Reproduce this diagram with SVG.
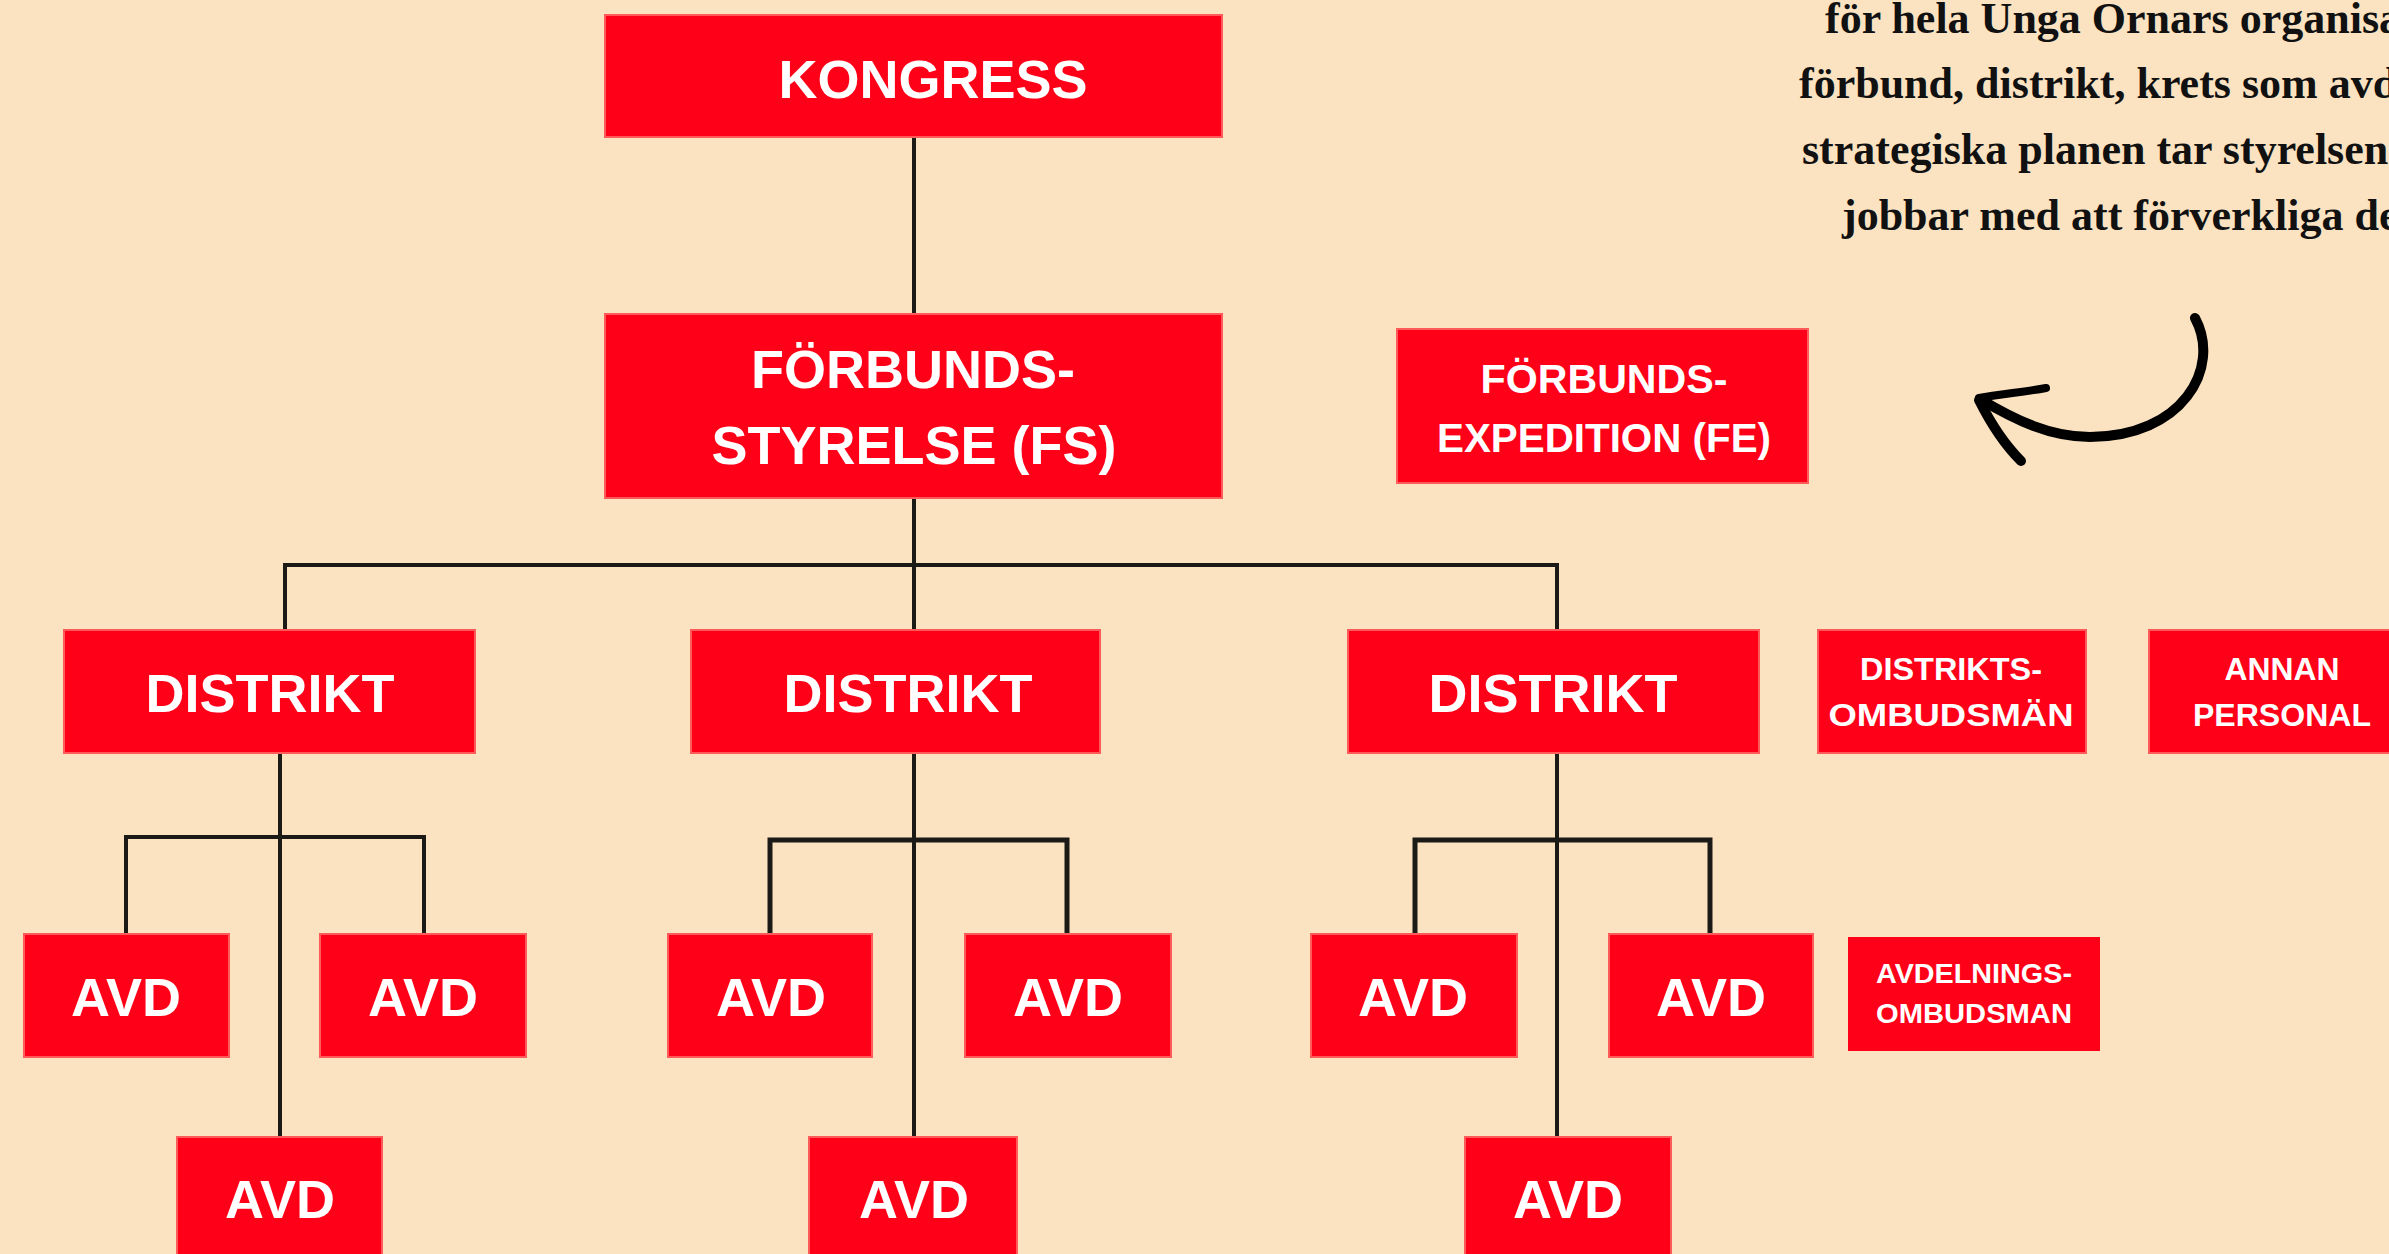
<svg xmlns="http://www.w3.org/2000/svg" width="2389" height="1254" viewBox="0 0 2389 1254">
  <style>
    .box { fill: #ff0019; stroke: #ff5a5a; stroke-width: 2; }
    .crisp { fill: #ff0019; }
    .lbl { font-family: "Liberation Sans", Arial, sans-serif; font-weight: bold; fill: #ffffff; text-anchor: middle; }
    .big { font-size: 54px; }
    .mid { font-size: 40px; }
    .sm { font-size: 31px; }
    .xs { font-size: 28px; }
    .conn { stroke: #1c1a17; stroke-width: 4; fill: none; stroke-linecap: square; }
    .note { font-family: "Liberation Serif", "Times New Roman", serif; font-weight: bold; font-size: 44px; fill: #111111; }
    .arrow { stroke: #000000; fill: none; stroke-linecap: round; stroke-linejoin: round; }
  </style>
  <rect x="0" y="0" width="2389" height="1254" fill="#fbe3c1"/>

  <g id="note">
    <text class="note" x="1825" y="33">för hela Unga Ornars organisa</text>
    <text class="note" x="1799" y="98">förbund, distrikt, krets som avd</text>
    <text class="note" x="1802" y="164">strategiska planen tar styrelsen</text>
    <text class="note" x="1842" y="230">jobbar med att förverkliga de</text>
  </g>

  <g id="arrow">
    <path class="arrow" stroke-width="10" d="M2195 318 C2222 368 2182 437 2090 437 C2050 437 2015 420 1980 399"/>
    <path class="arrow" stroke-width="8" d="M2046 388 C2025 392 2000 394 1979 398"/>
    <path class="arrow" stroke-width="10" d="M1979 400 C1990 422 2004 444 2021 461"/>
  </g>

  <g id="connectors">
    <line class="conn" x1="914" y1="137" x2="914" y2="314"/>
    <line class="conn" x1="914" y1="498" x2="914" y2="630"/>
    <polyline class="conn" points="285,630 285,565 1557,565 1557,630"/>
    <line class="conn" x1="280" y1="753" x2="280" y2="1137"/>
    <polyline class="conn" points="126,934 126,837 424,837 424,934"/>
    <line class="conn" x1="914" y1="753" x2="914" y2="1137"/>
    <polyline class="conn" style="stroke-width:5" points="770,934 770,840 1067,840 1067,934"/>
    <line class="conn" x1="1557" y1="753" x2="1557" y2="1137"/>
    <polyline class="conn" style="stroke-width:5" points="1415,934 1415,840 1710,840 1710,934"/>
  </g>

  <g id="kongress">
    <rect class="box" x="605" y="15" width="617" height="122"/>
    <text class="lbl big" x="933" y="98">KONGRESS</text>
  </g>
  <g id="fs">
    <rect class="box" x="605" y="314" width="617" height="184"/>
    <text class="lbl big" x="913" y="388">FÖRBUNDS-</text>
    <text class="lbl big" x="914" y="464">STYRELSE (FS)</text>
  </g>
  <g id="fe">
    <rect class="box" x="1397" y="329" width="411" height="154"/>
    <text class="lbl mid" x="1604" y="393" textLength="247" lengthAdjust="spacingAndGlyphs">FÖRBUNDS-</text>
    <text class="lbl mid" x="1604" y="452" textLength="334" lengthAdjust="spacingAndGlyphs">EXPEDITION (FE)</text>
  </g>

  <g id="distrikt1">
    <rect class="box" x="64" y="630" width="411" height="123"/>
    <text class="lbl big" x="270" y="712">DISTRIKT</text>
  </g>
  <g id="distrikt2">
    <rect class="box" x="691" y="630" width="409" height="123"/>
    <text class="lbl big" x="908" y="712">DISTRIKT</text>
  </g>
  <g id="distrikt3">
    <rect class="box" x="1348" y="630" width="411" height="123"/>
    <text class="lbl big" x="1553" y="712">DISTRIKT</text>
  </g>
  <g id="distriktsombudsman">
    <rect class="box" x="1818" y="630" width="268" height="123"/>
    <text class="lbl sm" x="1951" y="680" textLength="182" lengthAdjust="spacingAndGlyphs">DISTRIKTS-</text>
    <text class="lbl sm" x="1951" y="726" textLength="245" lengthAdjust="spacingAndGlyphs">OMBUDSMÄN</text>
  </g>
  <g id="annanpersonal">
    <rect class="box" x="2149" y="630" width="250" height="123"/>
    <text class="lbl sm" x="2282" y="680" textLength="115" lengthAdjust="spacingAndGlyphs">ANNAN</text>
    <text class="lbl sm" x="2282" y="726" textLength="178" lengthAdjust="spacingAndGlyphs">PERSONAL</text>
  </g>

  <g id="avd1">
    <rect class="box" x="24" y="934" width="205" height="123"/>
    <text class="lbl big" x="126" y="1016">AVD</text>
  </g>
  <g id="avd2">
    <rect class="box" x="320" y="934" width="206" height="123"/>
    <text class="lbl big" x="423" y="1016">AVD</text>
  </g>
  <g id="avd3">
    <rect class="box" x="668" y="934" width="204" height="123"/>
    <text class="lbl big" x="771" y="1016">AVD</text>
  </g>
  <g id="avd4">
    <rect class="box" x="965" y="934" width="206" height="123"/>
    <text class="lbl big" x="1068" y="1016">AVD</text>
  </g>
  <g id="avd5">
    <rect class="box" x="1311" y="934" width="206" height="123"/>
    <text class="lbl big" x="1413" y="1016">AVD</text>
  </g>
  <g id="avd6">
    <rect class="box" x="1609" y="934" width="204" height="123"/>
    <text class="lbl big" x="1711" y="1016">AVD</text>
  </g>
  <g id="avdelningsombudsman">
    <rect class="crisp" x="1848" y="937" width="252" height="114"/>
    <text class="lbl xs" x="1974" y="983" textLength="196" lengthAdjust="spacingAndGlyphs">AVDELNINGS-</text>
    <text class="lbl xs" x="1974" y="1023" textLength="196" lengthAdjust="spacingAndGlyphs">OMBUDSMAN</text>
  </g>

  <g id="avd7">
    <rect class="box" x="177" y="1137" width="205" height="140"/>
    <text class="lbl big" x="280" y="1218">AVD</text>
  </g>
  <g id="avd8">
    <rect class="box" x="809" y="1137" width="208" height="140"/>
    <text class="lbl big" x="914" y="1218">AVD</text>
  </g>
  <g id="avd9">
    <rect class="box" x="1465" y="1137" width="206" height="140"/>
    <text class="lbl big" x="1568" y="1218">AVD</text>
  </g>
</svg>
